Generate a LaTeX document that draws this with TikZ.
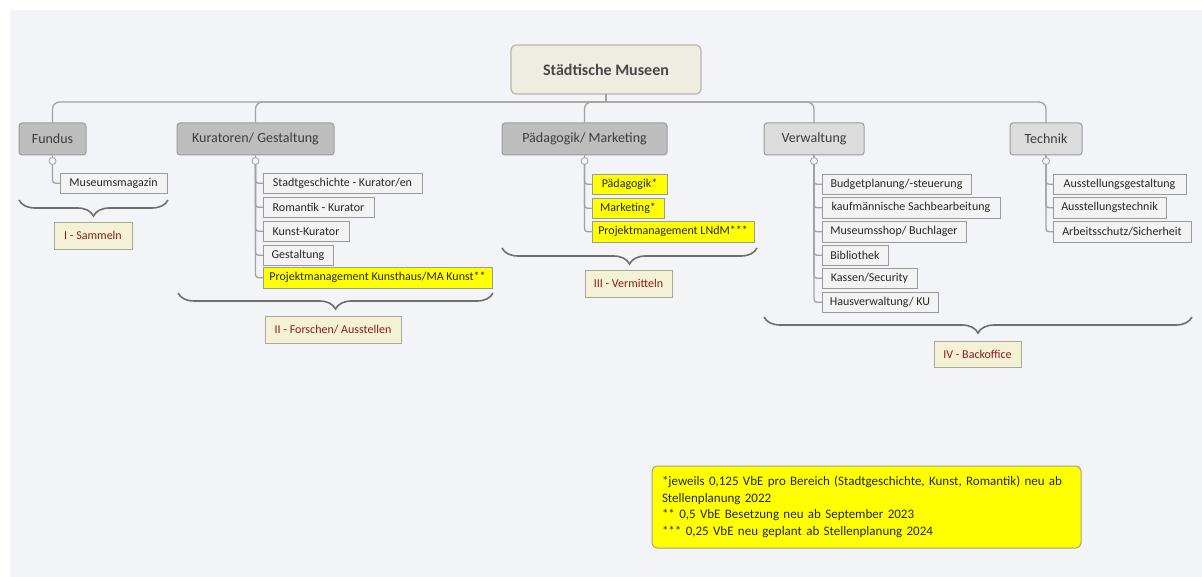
\documentclass[tikz,border=0pt]{standalone}
\usepackage{fontspec}
\setmainfont{Carlito}
\usetikzlibrary{decorations.pathreplacing}
\definecolor{bg}{HTML}{F2F4F8}
\definecolor{rootfill}{HTML}{EFECE2}
\definecolor{rootline}{HTML}{B9B5A9}
\definecolor{darkfill}{HTML}{BEBEBE}
\definecolor{lightfill}{HTML}{DCDCDC}
\definecolor{lvlline}{HTML}{9C9C9C}
\definecolor{childfill}{HTML}{F3F3F3}
\definecolor{childline}{HTML}{9A9A9A}
\definecolor{hiyellow}{HTML}{FFFF00}
\definecolor{labfill}{HTML}{F4F2D4}
\definecolor{labline}{HTML}{A9A89A}
\definecolor{labtext}{HTML}{8E1B1B}
\definecolor{connc}{HTML}{A2A2A2}
\definecolor{bracec}{HTML}{6E6E6E}
\definecolor{txt}{HTML}{262626}
\definecolor{noteline}{HTML}{A8A47C}
\begin{document}
\begin{tikzpicture}[x=1pt,y=-1pt,
  every node/.style={inner sep=0pt, outer sep=0pt},
  rootbox/.style={draw=rootline, line width=1.2pt, fill=rootfill, rounded corners=5pt,
    anchor=north west, font=\fontsize{16}{18}\selectfont\bfseries, text=txt!85},
  lvl/.style={draw=lvlline, line width=1pt, fill=darkfill, rounded corners=3pt,
    anchor=north west, minimum height=32pt, font=\fontsize{14}{16}\selectfont, text=txt!90},
  lvllight/.style={lvl, fill=lightfill},
  child/.style={draw=childline, line width=0.8pt, fill=childfill, anchor=north west,
    minimum height=20.5pt, font=\fontsize{12}{14}\selectfont, text=txt},
  ychild/.style={child, fill=hiyellow},
  lab/.style={draw=labline, line width=0.8pt, fill=labfill, anchor=north west,
    font=\fontsize{12}{14}\selectfont, text=labtext},
  circ/.style={circle, draw=connc, line width=0.8pt, fill=bg, minimum size=7pt},
  conn/.style={draw=connc, line width=1.3pt, rounded corners=3pt},
  bus/.style={draw=connc, line width=1.3pt, rounded corners=7pt},
  brc/.style={draw=bracec, line width=1.6pt, decorate,
    decoration={brace, mirror, amplitude=16pt, aspect=0.5}},
  note/.style={draw=noteline, line width=1pt, fill=hiyellow, rounded corners=5pt,
    anchor=north west, minimum width=429pt, minimum height=82pt, inner xsep=10pt,
    text width=409pt, font=\fontsize{13}{16.5}\selectfont, text=txt, align=left}
]
\useasboundingbox (0,0) rectangle (1202,577);
\fill[white] (0,0) rectangle (1202,577);
\fill[bg] (10,10) rectangle (1202,577);

% root
\node[rootbox, minimum width=190pt, minimum height=49pt] (root) at (511,45) {Städtische Museen};
\coordinate (busc) at (606,102);

% level 1
\node[lvl, minimum width=67pt] (fundus) at (19,123) {Fundus};
\node[lvl, minimum width=157pt] (kur) at (177,123) {Kuratoren/ Gestaltung};
\node[lvl, minimum width=165pt] (paed) at (502,123) {Pädagogik/ Marketing};
\node[lvllight, minimum width=100pt] (verw) at (764,123) {Verwaltung};
\node[lvllight, minimum width=72pt] (tech) at (1010,123) {Technik};

% bus
\draw[conn] (root.south) -- (busc);
\draw[bus] (fundus.north) |- (busc) -| (tech.north);
\draw[bus] (kur.north) |- (busc);
\draw[bus] (paed.north) |- (busc);
\draw[bus] (verw.north) |- (busc);

% circles
\node[circ] (cf) at (52.5,161) {};
\node[circ] (ck) at (255.5,161) {};
\node[circ] (cp) at (584.5,161) {};
\node[circ] (cv) at (814,161) {};
\node[circ] (ct) at (1046,161) {};
\draw[conn] (fundus.south) -- (cf.north);
\draw[conn] (kur.south) -- (ck.north);
\draw[conn] (paed.south) -- (cp.north);
\draw[conn] (verw.south) -- (cv.north);
\draw[conn] (tech.south) -- (ct.north);

% Fundus children
\node[child, minimum width=107pt] (f1) at (60,173) {Museumsmagazin};

% Kuratoren children
\node[child, minimum width=159pt] (k1) at (263,173) {Stadtgeschichte - Kurator/en};
\node[child, minimum width=111pt] (k2) at (263,197) {Romantik - Kurator};
\node[child, minimum width=86pt] (k3) at (263,221) {Kunst-Kurator};
\node[child, minimum width=70pt] (k4) at (263,245) {Gestaltung};
\node[ychild, minimum width=229pt] (k5) at (263,267.5) {Projektmanagement Kunsthaus/MA Kunst**};

% Paedagogik children
\node[ychild, minimum width=75pt] (p1) at (592,174) {Pädagogik*};
\node[ychild, minimum width=72pt] (p2) at (592,198) {Marketing*};
\node[ychild, minimum width=162pt] (p3) at (592,221.5) {Projektmanagement LNdM***};

% Verwaltung children
\node[child, minimum width=149pt] (v1) at (822,174) {Budgetplanung/-steuerung};
\node[child, minimum width=178pt] (v2) at (822,197.5) {kaufmännische Sachbearbeitung};
\node[child, minimum width=144pt] (v3) at (822,221.5) {Museumsshop/ Buchlager};
\node[child, minimum width=66pt] (v4) at (822,245) {Bibliothek};
\node[child, minimum width=95pt] (v5) at (822,268) {Kassen/Security};
\node[child, minimum width=116pt] (v6) at (822,292) {Hausverwaltung/ KU};

% Technik children
\node[child, minimum width=133pt] (t1) at (1053,174) {Ausstellungsgestaltung};
\node[child, minimum width=113pt] (t2) at (1053,197.5) {Ausstellungstechnik};
\node[child, minimum width=138pt] (t3) at (1053,221.5) {Arbeitsschutz/Sicherheit};

% child connectors
\foreach \c in {f1} \draw[conn] (cf.south) |- (\c.west);
\foreach \c in {k1,k2,k3,k4,k5} \draw[conn] (ck.south) |- (\c.west);
\foreach \c in {p1,p2,p3} \draw[conn] (cp.south) |- (\c.west);
\foreach \c in {v1,v2,v3,v4,v5,v6} \draw[conn] (cv.south) |- (\c.west);
\foreach \c in {t1,t2,t3} \draw[conn] (ct.south) |- (\c.west);

% braces
\coordinate (bf1) at (19,200);   \coordinate (bf2) at (168,200);
\coordinate (bk1) at (178,293);  \coordinate (bk2) at (493,293);
\coordinate (bp1) at (502,248);  \coordinate (bp2) at (757,248);
\coordinate (bb1) at (764,317);  \coordinate (bb2) at (1192,317);
\draw[brc] (bf1) -- (bf2);
\draw[brc] (bk1) -- (bk2);
\draw[brc] (bp1) -- (bp2);
\draw[brc] (bb1) -- (bb2);

% labels
\node[lab, minimum width=78pt, minimum height=27pt] (l1) at (54,222) {I - Sammeln};
\node[lab, minimum width=136pt, minimum height=27pt] (l2) at (265,316) {II - Forschen/ Ausstellen};
\node[lab, minimum width=87pt, minimum height=27pt] (l3) at (585,270) {III - Vermitteln};
\node[lab, minimum width=87pt, minimum height=26pt] (l4) at (934,341) {IV - Backoffice};

% footnote
\node[note] (fn) at (652,466) {*jeweils 0,125 VbE pro Bereich (Stadtgeschichte, Kunst, Romantik) neu ab\\{}Stellenplanung 2022\\{}** 0,5 VbE Besetzung neu ab September 2023\\{}*** 0,25 VbE neu geplant ab Stellenplanung 2024};
\end{tikzpicture}
\end{document}
